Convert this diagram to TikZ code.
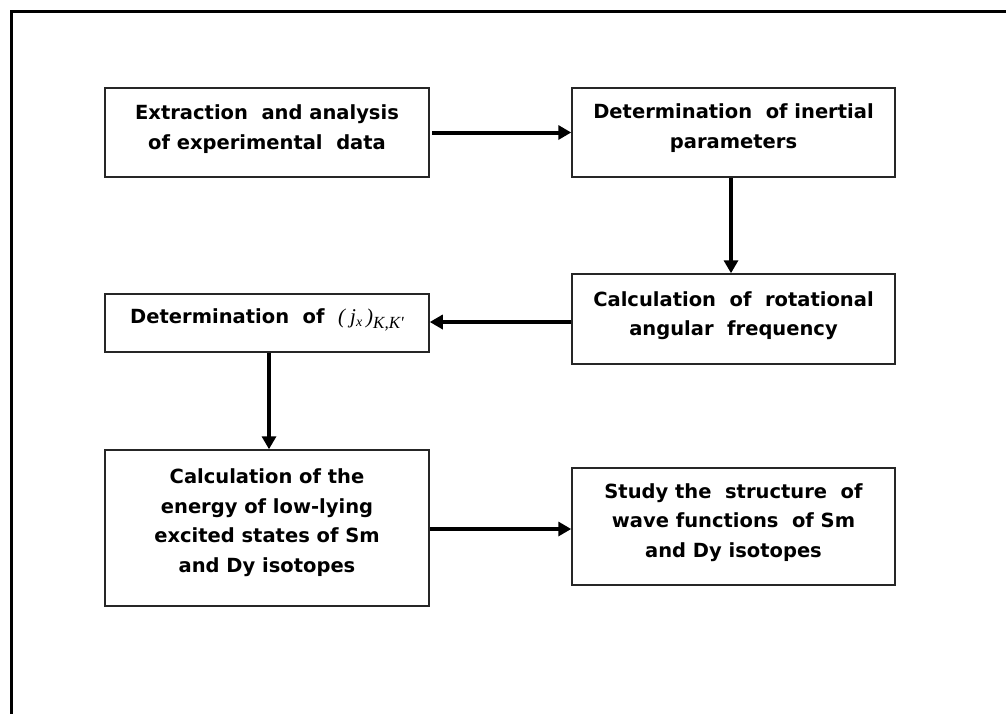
\documentclass[tikz,border=0pt]{standalone}
\usepackage{fontspec}
\setmainfont{DejaVu Sans}
\newfontfamily\timesfam{Liberation Serif}
\usetikzlibrary{arrows.meta}
\newcommand\lowr[1]{\rule[-#1pt]{0pt}{0pt}}
\begin{document}
\begin{tikzpicture}[x=1pt,y=-1pt,
  box/.style={draw=black!85, line width=1.5pt, rectangle, align=center,
    font=\fontsize{19.5}{29.5}\selectfont\bfseries, inner sep=0pt},
  arr/.style={line width=4pt, -{Triangle[length=13pt,width=14pt]}}]
\useasboundingbox (0,0) rectangle (1006,713);
\fill[white] (0,0) rectangle (1006,713);
\draw[line width=3pt] (11.5,714) -- (11.5,11.5) -- (1007,11.5);
\node[box, minimum width=324pt, minimum height=89pt] (b1) at (267,132.5)
  {Extraction\ \ and analysis\\ of experimental\ \ data\lowr{10.5}};
\node[box, minimum width=323pt, minimum height=89pt] (b2) at (733.5,132.5)
  {Determination\ \ of inertial\\ parameters\lowr{12.5}};
\node[box, minimum width=323pt, minimum height=90pt] (b3) at (733.5,319)
  {Calculation\ \ of\ \ rotational\\ angular\ \ frequency\lowr{10.5}};
\node[box, minimum width=324pt, minimum height=58pt] (b4) at (267,323)
  {Determination\ \ of\ \ {\timesfam\itshape\mdseries\fontsize{21}{22}\selectfont(\kern5pt j\raisebox{-3pt}{\fontsize{14}{14}\selectfont x}\kern4pt)\raisebox{-5pt}{\fontsize{17}{17}\selectfont K,K'}}\lowr{14}};
\node[box, minimum width=324pt, minimum height=156pt] (b5) at (267,528)
  {Calculation of the\\ energy of low-lying\\ excited states of Sm\\ and Dy isotopes\lowr{14.5}};
\node[box, minimum width=323pt, minimum height=117pt] (b6) at (733.5,526.5)
  {Study the\ \ structure\ \ of\\ wave functions\ \ of Sm\\ and Dy isotopes\lowr{12.5}};
\draw[arr, shorten <=2.5pt] (b1.east) -- (b2.west);
\draw[arr] ([xshift=-2.5pt]b2.south) -- ([xshift=-2.5pt]b3.north);
\draw[arr] ([yshift=-3pt]b3.west) -- ([yshift=-3pt]b3.west -| b4.east);
\draw[arr] ([xshift=2pt]b4.south) -- ([xshift=2pt]b5.north);
\draw[arr] ([yshift=-1pt]b5.east) -- ([yshift=-1pt]b5.east -| b6.west);
\end{tikzpicture}
\end{document}
